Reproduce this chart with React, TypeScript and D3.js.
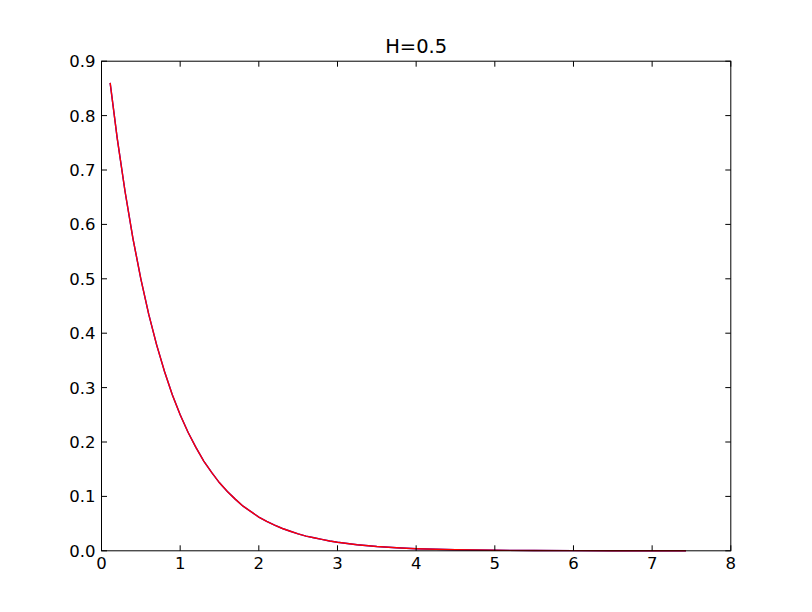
import React from "react";
import * as d3 from "d3";

const xValues = [0.11, 0.2, 0.3, 0.4, 0.5, 0.6, 0.7, 0.8, 0.9, 1.0, 1.1, 1.2, 1.3, 1.4, 1.5, 1.6, 1.7, 1.8, 1.9, 2.0, 2.1, 2.2, 2.3, 2.4, 2.5, 2.6, 2.7, 2.8, 2.9, 3.0, 3.25, 3.5, 3.75, 4.0, 4.5, 5.0, 5.5, 6.0, 6.5, 7.0, 7.43];
const blueSeries = [0.86, 0.758, 0.66, 0.574, 0.5, 0.435, 0.379, 0.33, 0.287, 0.25, 0.218, 0.19, 0.165, 0.144, 0.125, 0.109, 0.095, 0.082, 0.072, 0.062, 0.054, 0.047, 0.041, 0.036, 0.031, 0.027, 0.024, 0.021, 0.018, 0.0156, 0.011, 0.0078, 0.0055, 0.0039, 0.002, 0.001, 0.0005, 0.00025, 0.00012, 0.00006, 0.00003];
const redSeries = [0.86, 0.758, 0.66, 0.574, 0.5, 0.435, 0.379, 0.33, 0.287, 0.25, 0.218, 0.19, 0.165, 0.144, 0.125, 0.109, 0.095, 0.082, 0.072, 0.062, 0.054, 0.047, 0.041, 0.036, 0.031, 0.027, 0.024, 0.021, 0.018, 0.0156, 0.011, 0.0078, 0.0055, 0.0039, 0.002, 0.001, 0.0005, 0.00025, 0.00012, 0.00006, 0.00003];
const xTicks = [0, 1, 2, 3, 4, 5, 6, 7, 8];
const yTicks = [0.0, 0.1, 0.2, 0.3, 0.4, 0.5, 0.6, 0.7, 0.8, 0.9];
const title = "H=0.5";

const W = 812, H = 612;
const L = 101.5, R = 730.8, T = 61.2, B = 550.8;

export default function App() {
  const x = d3.scaleLinear().domain([0, 8]).range([L, R]);
  const y = d3.scaleLinear().domain([0, 0.9]).range([B, T]);
  const line = (vals: number[]) =>
    d3.line<number>().x((_, i) => x(xValues[i])).y((d) => y(d))(vals) || "";
  const font = "DejaVu Sans, sans-serif";
  const tl = 5.5;
  return (
    <svg width={W} height={H} style={{ position: "absolute", left: 0, top: 0, background: "#fff" }}>
      <rect x={0} y={0} width={W} height={H} fill="#fff" />
      <path d={line(blueSeries)} fill="none" stroke="#0000ff" strokeWidth={1.4} />
      <path d={line(redSeries)} fill="none" stroke="#ff0000" strokeWidth={1.4} />
      <rect x={L} y={T} width={R - L} height={B - T} fill="none" stroke="#000" strokeWidth={1} />
      {xTicks.map((t) => (
        <g key={"x" + t}>
          <line x1={x(t)} x2={x(t)} y1={B} y2={B - tl} stroke="#000" strokeWidth={1} />
          <line x1={x(t)} x2={x(t)} y1={T} y2={T + tl} stroke="#000" strokeWidth={1} />
          <text x={x(t)} y={B + 6} dy="0.76em" textAnchor="middle" fontFamily={font} fontSize={16.5}>
            {t}
          </text>
        </g>
      ))}
      {yTicks.map((t) => (
        <g key={"y" + t}>
          <line x1={L} x2={L + tl} y1={y(t)} y2={y(t)} stroke="#000" strokeWidth={1} />
          <line x1={R} x2={R - tl} y1={y(t)} y2={y(t)} stroke="#000" strokeWidth={1} />
          <text x={L - 6} y={y(t)} dy="0.36em" textAnchor="end" fontFamily={font} fontSize={16.5}>
            {t.toFixed(1)}
          </text>
        </g>
      ))}
      <text x={(L + R) / 2} y={T - 8} textAnchor="middle" fontFamily={font} fontSize={19.5}>
        {title}
      </text>
    </svg>
  );
}
